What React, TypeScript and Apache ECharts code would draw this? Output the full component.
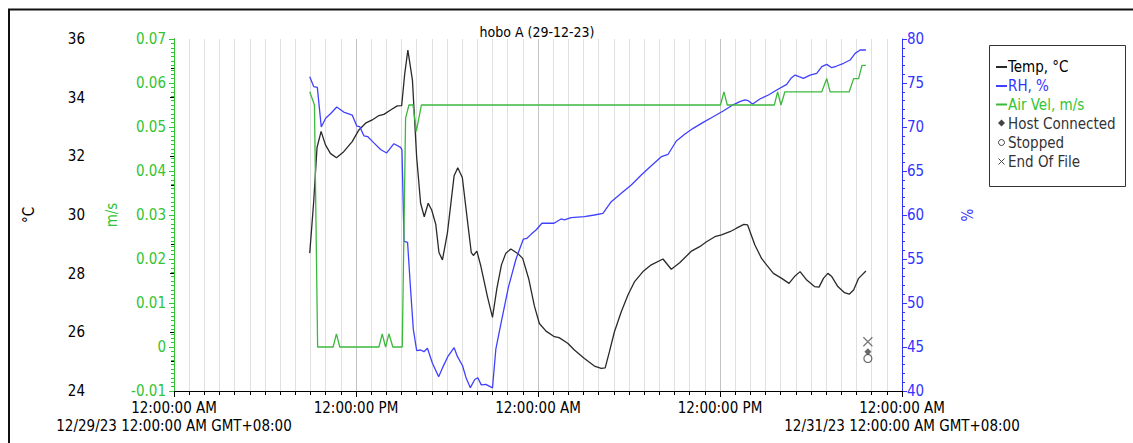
import React, { useEffect, useRef } from "react";
import * as echarts from "echarts";

// ---- data (x = hours since 12/29/23 12:00:00 AM GMT+08:00) ----
const chartTitle = "hobo A (29-12-23)";
const seriesNames = ["Temp, °C", "RH, %", "Air Vel, m/s"];
const eventNames = ["Host Connected", "Stopped", "End Of File"];

const tempData: [number, number][] = [
  [8.95, 28.7], [9.21, 30.45], [9.43, 32.3], [9.7, 32.85], [9.98, 32.4], [10.31, 32.1],
  [10.71, 31.95], [11.19, 32.16], [11.75, 32.5], [12.19, 32.9], [12.63, 33.13], [13.07, 33.24],
  [13.51, 33.39], [13.84, 33.43], [14.28, 33.58], [14.72, 33.72], [15.01, 33.73], [15.21, 34.8],
  [15.42, 35.62], [15.72, 34.6], [16.0, 31.97], [16.26, 30.4], [16.5, 29.94], [16.76, 30.4],
  [16.99, 30.17], [17.26, 29.68], [17.47, 28.72], [17.7, 28.47], [18.03, 29.4], [18.47, 31.34],
  [18.71, 31.61], [19.01, 31.28], [19.31, 29.97], [19.6, 28.72], [19.74, 28.62], [19.97, 28.77],
  [20.23, 28.26], [20.67, 27.21], [21.0, 26.51], [21.29, 27.5], [21.59, 28.3], [21.88, 28.7],
  [22.21, 28.84], [22.66, 28.69], [22.99, 28.52], [23.4, 27.8], [23.76, 26.9], [24.09, 26.3],
  [24.53, 26.04], [25.08, 25.85], [25.39, 25.82], [25.96, 25.63], [26.4, 25.4], [27.06, 25.11],
  [27.72, 24.85], [28.17, 24.77], [28.43, 24.79], [28.71, 25.34], [29.04, 26.02], [29.49, 26.7],
  [29.93, 27.27], [30.37, 27.73], [30.92, 28.07], [31.47, 28.3], [32.24, 28.5], [32.79, 28.15],
  [33.34, 28.37], [34.12, 28.77], [34.66, 28.92], [35.11, 29.09], [35.66, 29.26], [36.1, 29.32],
  [36.65, 29.43], [37.09, 29.55], [37.57, 29.68], [37.82, 29.66], [38.3, 28.98], [38.74, 28.52],
  [39.07, 28.3], [39.52, 28.01], [40.07, 27.84], [40.55, 27.67], [40.91, 27.9], [41.28, 28.07],
  [41.72, 27.78], [42.23, 27.56], [42.53, 27.54], [42.82, 27.84], [43.11, 28.01], [43.37, 27.9],
  [43.77, 27.56], [44.21, 27.35], [44.52, 27.3], [44.81, 27.44], [45.14, 27.84], [45.62, 28.09],
];

const rhData: [number, number][] = [
  [8.95, 75.7], [9.21, 74.6], [9.45, 74.5], [9.71, 70.0], [10.0, 71.0], [10.35, 71.56],
  [10.73, 72.27], [11.19, 71.7], [11.75, 71.36], [12.05, 70.1], [12.25, 70.03], [12.52, 69.0],
  [12.78, 68.9], [13.18, 68.2], [13.62, 67.45], [14.02, 67.05], [14.5, 68.1], [14.94, 67.69],
  [15.03, 67.4], [15.17, 57.0], [15.4, 56.9], [15.6, 51.5], [15.78, 47.0], [16.0, 44.6],
  [16.26, 44.66], [16.48, 44.47], [16.71, 44.85], [17.04, 43.15], [17.45, 41.63], [17.75, 42.8],
  [18.05, 43.9], [18.47, 44.92], [18.69, 43.9], [19.02, 42.9], [19.27, 41.44], [19.54, 40.38],
  [19.83, 41.3], [20.03, 41.5], [20.26, 40.7], [20.56, 40.76], [21.0, 40.35], [21.22, 44.75],
  [21.55, 47.6], [22.05, 51.8], [22.55, 55.0], [23.03, 57.25], [23.27, 57.35], [23.54, 57.8],
  [23.87, 58.3], [24.26, 59.06], [25.06, 59.06], [25.52, 59.55], [25.74, 59.45], [26.18, 59.7],
  [27.06, 59.81], [27.72, 60.0], [28.28, 60.19], [28.83, 61.51], [29.49, 62.46], [30.15, 63.41],
  [30.81, 64.55], [31.47, 65.6], [32.13, 66.63], [32.58, 66.9], [33.12, 68.41], [33.67, 69.17],
  [34.23, 69.85], [34.89, 70.53], [35.55, 71.17], [36.21, 71.82], [36.76, 72.42], [37.31, 72.88],
  [37.64, 73.07], [37.86, 72.99], [38.15, 72.61], [38.63, 73.18], [39.19, 73.64], [39.74, 74.2],
  [40.4, 74.85], [40.68, 75.53], [40.95, 75.9], [41.21, 75.72], [41.5, 75.53], [41.94, 75.9],
  [42.38, 76.1], [42.71, 76.86], [43.04, 77.12], [43.37, 76.74], [43.7, 76.93], [44.15, 77.24],
  [44.58, 77.61], [44.91, 78.37], [45.24, 78.75], [45.62, 78.75],
];

const airVelData: [number, number][] = [
  [8.95, 0.058], [9.26, 0.055], [9.47, 0], [10.49, 0], [10.71, 0.003], [10.93, 0],
  [13.51, 0], [13.73, 0.003], [13.95, 0], [14.17, 0.003], [14.43, 0], [15.05, 0],
  [15.27, 0.052], [15.49, 0.055], [15.76, 0.055], [15.98, 0.049], [16.31, 0.055], [36.03, 0.055],
  [36.26, 0.058], [36.48, 0.055], [39.58, 0.055], [39.8, 0.058], [40.02, 0.055], [40.28, 0.058],
  [42.71, 0.058], [43.04, 0.061], [43.26, 0.058], [44.52, 0.058], [44.81, 0.061], [45.14, 0.061],
  [45.36, 0.064], [45.62, 0.064],
];

// event markers: [hour, level on the °C axis]
const hostConnectedData: [number, number][] = [[45.75, 25.34]];
const stoppedData: [number, number][] = [[45.75, 25.11]];
const endOfFileData: [number, number][] = [[45.75, 25.68]];

const xTickHours = [0, 12, 24, 36, 48];
const xTickLabels = ["12:00:00 AM", "12:00:00 PM", "12:00:00 AM", "12:00:00 PM", "12:00:00 AM"];
const xDateLabels = ["12/29/23 12:00:00 AM GMT+08:00", "", "", "", "12/31/23 12:00:00 AM GMT+08:00"];

// ---- styles ----
const FONT = '"DejaVu Sans Condensed", "DejaVu Sans", sans-serif';
const C_TEMP = "#2a2a2a";
const C_RH = "#4040ff";
const C_AIR = "#3cb93c";
const C_RH_TXT = "#3333ff";
const C_AIR_TXT = "#33c433";

export default function App() {
  const ref = useRef<HTMLDivElement>(null);

  useEffect(() => {
    if (!ref.current) return;
    const chart = echarts.init(ref.current, null, { renderer: "svg" });

    const labelStyle = { fontFamily: FONT, fontSize: 15 };

    const legendRows = [67, 86, 104.5, 123.5, 142.5, 161.5];
    const legendColors = [C_TEMP, C_RH, C_AIR];
    const legendGraphics: any[] = [
      {
        type: "rect",
        shape: { x: 989.5, y: 45.5, width: 136, height: 141 },
        style: { fill: "#fff", stroke: "#333", lineWidth: 1 },
      },
    ];
    seriesNames.forEach((n, i) => {
      legendGraphics.push({
        type: "line",
        shape: { x1: 996, y1: legendRows[i], x2: 1007, y2: legendRows[i] },
        style: { stroke: legendColors[i], lineWidth: 2 },
      });
      legendGraphics.push({
        type: "text",
        x: 1008,
        y: legendRows[i],
        style: { text: n, fill: i === 0 ? "#000" : i === 1 ? C_RH_TXT : C_AIR_TXT, fontSize: 15, fontFamily: FONT, verticalAlign: "middle", align: "left" },
      });
    });
    // event symbols
    legendGraphics.push({
      type: "polygon",
      shape: { points: [[1001.5, 119.5], [1005, 123], [1001.5, 126.5], [998, 123]] },
      style: { fill: "#444" },
    });
    legendGraphics.push({
      type: "circle",
      shape: { cx: 1001.5, cy: 142.5, r: 3 },
      style: { fill: "#fff", stroke: "#444", lineWidth: 1 },
    });
    legendGraphics.push({
      type: "line",
      shape: { x1: 998.5, y1: 158.5, x2: 1004.5, y2: 164.5 },
      style: { stroke: "#444", lineWidth: 1 },
    });
    legendGraphics.push({
      type: "line",
      shape: { x1: 1004.5, y1: 158.5, x2: 998.5, y2: 164.5 },
      style: { stroke: "#444", lineWidth: 1 },
    });
    eventNames.forEach((n, i) => {
      legendGraphics.push({
        type: "text",
        x: 1008,
        y: legendRows[3 + i],
        style: { text: n, fill: "#333", fontSize: 15, fontFamily: FONT, verticalAlign: "middle", align: "left" },
      });
    });

    const option: any = {
      animation: false,
      backgroundColor: "#ffffff",
      grid: { left: 174, right: 231, top: 39, bottom: 52, containLabel: false },
      graphic: [
        {
          type: "rect",
          shape: { x: 9, y: 9.5, width: 1300, height: 600 },
          style: { fill: "none", stroke: "#111", lineWidth: 2 },
          silent: true,
        },
        {
          type: "text",
          x: 537,
          y: 32,
          style: { text: chartTitle, fill: "#000", fontSize: 14, fontFamily: FONT, align: "center", verticalAlign: "middle" },
        },
        ...legendGraphics,
      ],
      xAxis: {
        type: "value",
        min: 0,
        max: 48,
        interval: 12,
        axisLine: { show: true, onZero: false, lineStyle: { color: "#000", width: 1 } },
        axisTick: { show: true, length: 6, lineStyle: { color: "#000" } },
        minorTick: { show: true, splitNumber: 12, length: 4, lineStyle: { color: "#000" } },
        splitLine: { show: true, lineStyle: { color: "#c4c4c4", width: 1 } },
        minorSplitLine: { show: true, lineStyle: { color: "#e0e0e0", width: 1 } },
        axisLabel: {
          ...labelStyle,
          color: "#000",
          margin: 8,
          lineHeight: 18,
          showMinLabel: true,
          showMaxLabel: true,
          hideOverlap: false,
          formatter: (v: number) => {
            const i = xTickHours.indexOf(v);
            if (i < 0) return "";
            return xDateLabels[i] ? xTickLabels[i] + "\n" + xDateLabels[i] : xTickLabels[i];
          },
        },
      },
      yAxis: [
        {
          type: "value",
          min: 24,
          max: 36,
          interval: 2,
          position: "left",
          offset: 81,
          name: "°C",
          nameLocation: "middle",
          nameGap: 57,
          nameRotate: 90,
          nameTextStyle: { ...labelStyle, color: "#000" },
          axisLine: { show: true, lineStyle: { color: "#000" } },
          axisTick: { show: true, length: 4, lineStyle: { color: "#000" } },
          minorTick: { show: true, splitNumber: 2, length: 3, lineStyle: { color: "#000" } },
          splitLine: { show: false },
          axisLabel: { ...labelStyle, color: "#000", margin: 8 },
        },
        {
          type: "value",
          min: -0.01,
          max: 0.07,
          interval: 0.01,
          position: "left",
          offset: 0,
          name: "m/s",
          nameLocation: "middle",
          nameGap: 55,
          nameRotate: 90,
          nameTextStyle: { ...labelStyle, color: C_AIR_TXT },
          axisLine: { show: true, lineStyle: { color: C_AIR_TXT } },
          axisTick: { show: true, length: 5, lineStyle: { color: C_AIR_TXT } },
          minorTick: { show: true, splitNumber: 10, length: 3, lineStyle: { color: C_AIR_TXT } },
          splitLine: { show: false },
          axisLabel: {
            ...labelStyle,
            color: C_AIR_TXT,
            margin: 8,
            formatter: (v: number) => String(Number(v.toFixed(3))),
          },
        },
        {
          type: "value",
          min: 40,
          max: 80,
          interval: 5,
          position: "right",
          offset: 0,
          name: "%",
          nameLocation: "middle",
          nameGap: 58,
          nameRotate: 90,
          nameTextStyle: { ...labelStyle, color: C_RH_TXT },
          axisLine: { show: true, lineStyle: { color: C_RH_TXT } },
          axisTick: { show: true, length: 5, lineStyle: { color: C_RH_TXT } },
          minorTick: { show: true, splitNumber: 5, length: 3, lineStyle: { color: C_RH_TXT } },
          splitLine: { show: false },
          axisLabel: { ...labelStyle, color: C_RH_TXT, margin: 5 },
        },
      ],
      series: [
        {
          name: seriesNames[0],
          type: "line",
          yAxisIndex: 0,
          data: tempData,
          showSymbol: false,
          lineStyle: { color: C_TEMP, width: 1.3 },
          itemStyle: { color: C_TEMP },
        },
        {
          name: seriesNames[1],
          type: "line",
          yAxisIndex: 2,
          data: rhData,
          showSymbol: false,
          lineStyle: { color: C_RH, width: 1.3 },
          itemStyle: { color: C_RH },
        },
        {
          name: seriesNames[2],
          type: "line",
          yAxisIndex: 1,
          data: airVelData,
          showSymbol: false,
          lineStyle: { color: C_AIR, width: 1.3 },
          itemStyle: { color: C_AIR },
        },
        {
          name: eventNames[1],
          type: "scatter",
          yAxisIndex: 0,
          data: stoppedData,
          symbol: "circle",
          symbolSize: 8,
          itemStyle: { color: "#fff", borderColor: "#444", borderWidth: 1.2 },
        },
        {
          name: eventNames[0],
          type: "scatter",
          yAxisIndex: 0,
          data: hostConnectedData,
          symbol: "diamond",
          symbolSize: 7,
          itemStyle: { color: "#444" },
        },
        {
          name: eventNames[2],
          type: "scatter",
          yAxisIndex: 0,
          data: endOfFileData,
          symbol: "path://M0,0L10,10M10,0L0,10",
          symbolSize: 9,
          itemStyle: { color: "none", borderColor: "#555", borderWidth: 1.2 },
        },
      ],
    };

    chart.setOption(option);
    return () => chart.dispose();
  }, []);

  return (
    <div
      ref={ref}
      style={{ position: "fixed", left: 0, top: 0, width: 1133, height: 443, background: "#fff" }}
    />
  );
}
